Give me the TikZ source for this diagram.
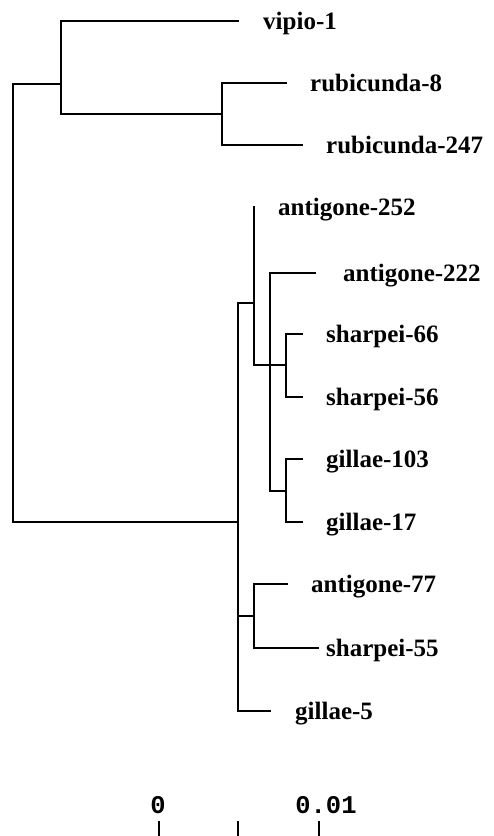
\documentclass[tikz,border=0pt]{standalone}
\usepackage{fontspec}
\setmainfont{Liberation Serif}
\setmonofont{Liberation Mono}
\usetikzlibrary{positioning}

\begin{document}
\begin{tikzpicture}[x=1pt,y=-1pt,
		branch/.style={line width=2.2pt,line cap=rect},
		taxon/.style={anchor=base west,inner sep=0pt,
			font=\bfseries\fontsize{25}{30}\selectfont},
		scalelabel/.style={anchor=base,inner sep=0pt,
			font=\ttfamily\bfseries\fontsize{25.5}{30}\selectfont}
	]
	\useasboundingbox (0,0) rectangle (494,836);

	% Inner nodes of the tree
	\coordinate (r) at (13,84);
	\coordinate (A) at (61,84);
	\coordinate (R) at (222,114);
	\coordinate (B) at (238,522);
	\coordinate (C) at (254,303);
	\coordinate (D) at (270,365);
	\coordinate (S) at (286,365);
	\coordinate (G) at (286,491);
	\coordinate (E) at (254,616);

	% Branch tips
	\coordinate (t-vipio1) at (238,21);
	\coordinate (t-rub8) at (286,83);
	\coordinate (t-rub247) at (302,145);
	\coordinate (t-ant252) at (254,207);
	\coordinate (t-ant222) at (315,273);
	\coordinate (t-sha66) at (302,334);
	\coordinate (t-sha56) at (302,397);
	\coordinate (t-gil103) at (302,459);
	\coordinate (t-gil17) at (302,522);
	\coordinate (t-ant77) at (287,584);
	\coordinate (t-sha55) at (318,648);
	\coordinate (t-gil5) at (270,711);

	% Taxon labels
	\node[taxon] (vipio1) at (263,29) {vipio-1};
	\node[taxon] (rub8) at (310,91) {rubicunda-8};
	\node[taxon] (rub247) at (326,153) {rubicunda-247};
	\node[taxon] (ant252) at (278,215) {antigone-252};
	\node[taxon] (ant222) at (343,281) {antigone-222};
	\node[taxon] (sha66) at (326,342) {sharpei-66};
	\node[taxon] (sha56) at (326,405) {sharpei-56};
	\node[taxon] (gil103) at (326,467) {gillae-103};
	\node[taxon] (gil17) at (326,530) {gillae-17};
	\node[taxon] (ant77) at (311,592) {antigone-77};
	\node[taxon] (sha55) at (326,656) {sharpei-55};
	\node[taxon] (gil5) at (295,719) {gillae-5};

	% Branches
	\draw[branch] (A) -- (r) |- (B);
	\draw[branch] (A) |- (t-vipio1);
	\draw[branch] (A) |- (R);
	\draw[branch] (R) |- (t-rub8);
	\draw[branch] (R) |- (t-rub247);
	\draw[branch] (B) |- (C);
	\draw[branch] (B) |- (E);
	\draw[branch] (B) |- (t-gil5);
	\draw[branch] (C) |- (t-ant252);
	\draw[branch] (C) |- (S);
	\draw[branch] (D) |- (t-ant222);
	\draw[branch] (D) |- (G);
	\draw[branch] (S) |- (t-sha66);
	\draw[branch] (S) |- (t-sha56);
	\draw[branch] (G) |- (t-gil103);
	\draw[branch] (G) |- (t-gil17);
	\draw[branch] (E) |- (t-ant77);
	\draw[branch] (E) |- (t-sha55);

	% Scale
	\node[scalelabel] (zero) at (158,813) {0};
	\node[scalelabel] (hundredth) at (326,813) {0.01};
	\foreach \x in {159,238,319}
		\draw[line width=2.2pt] (\x,821) -- (\x,836);

\end{tikzpicture}
\end{document}
